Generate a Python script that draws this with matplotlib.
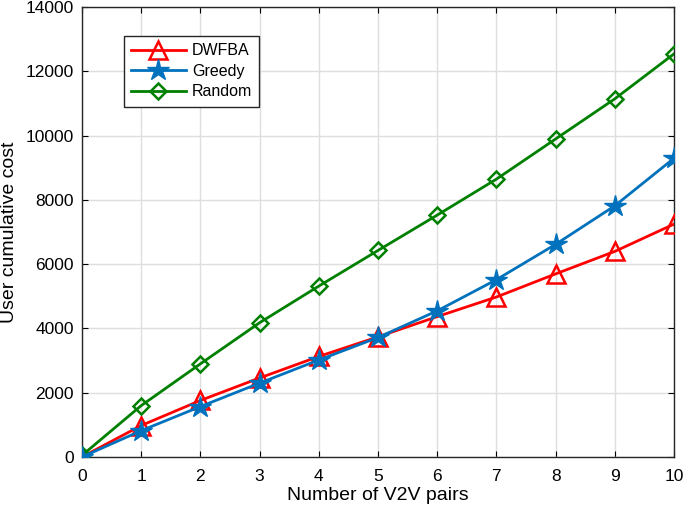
import numpy as np
import matplotlib.pyplot as plt

plt.rcParams['font.family'] = ['Liberation Sans', 'DejaVu Sans']

# data
pairs = np.arange(0, 11)
dwfba = [0, 980, 1760, 2460, 3130, 3740, 4370, 4980, 5700, 6400, 7250]
greedy = [0, 820, 1570, 2300, 3020, 3720, 4550, 5520, 6620, 7820, 9300]
random_ = [50, 1600, 2900, 4180, 5320, 6430, 7530, 8650, 9900, 11150, 12550]

fig = plt.figure(figsize=(6.85, 5.14), dpi=100)
ax = fig.add_axes([0.1197, 0.1109, 0.8643, 0.875])

ax.plot(pairs, dwfba, color='#ff0000', lw=2, marker='^', ms=12.5,
        mfc='none', mew=1.8, label='DWFBA', zorder=3)
ax.plot(pairs, greedy, color='#0072bd', lw=2, marker='*', ms=16,
        mfc='#0072bd', label='Greedy', zorder=4)
ax.plot(pairs, random_, color='#008000', lw=2, marker='D', ms=8.5,
        mfc='none', mew=1.8, label='Random', zorder=3)

ax.set_xlim(0, 10)
ax.set_ylim(0, 14000)
ax.set_xticks(range(0, 11))
ax.set_yticks(range(0, 14001, 2000))
ax.grid(True, color='#dedede', lw=1)
ax.set_axisbelow(True)
ax.tick_params(direction='in', top=True, right=True, labelsize=12.5,
               length=4, pad=6)
ax.tick_params(axis='x', pad=9)
for s in ax.spines.values():
    s.set_color('#262626')
    s.set_linewidth(1)

ax.set_xlabel('Number of V2V pairs', fontsize=14, labelpad=2)
ax.set_ylabel('User cumulative cost', fontsize=14, labelpad=5)

leg = ax.legend(loc='upper left', bbox_to_anchor=(0.071, 0.936),
                borderaxespad=0, fontsize=11.5, fancybox=False,
                framealpha=1, edgecolor='#262626', handlelength=3.4,
                handletextpad=0.4, borderpad=0.45, labelspacing=0.35)
leg.get_frame().set_linewidth(1)

fig.savefig('out.png', dpi=100)
